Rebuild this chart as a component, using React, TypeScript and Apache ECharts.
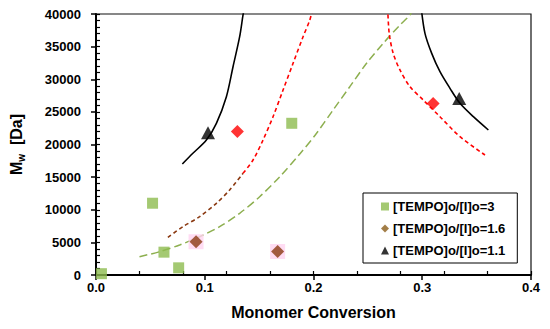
import React, { useEffect, useRef } from "react";
import * as echarts from "echarts";

// Measured points
const sqX = [0.005, 0.052, 0.0625, 0.076, 0.18];
const sqY = [200, 11000, 3500, 1100, 23250];

const dmX = [0.092, 0.167, 0.13, 0.31];
const dmY = [5100, 3600, 22000, 26300];
const dmKind = ["brown", "brown", "red", "red"];

const trX = [0.103, 0.334];
const trY = [21800, 27050];

// Model curves
const blk1X = [0.0794, 0.0891, 0.1015, 0.1107, 0.1199, 0.126, 0.1321, 0.1352, 0.1365];
const blk1Y = [17010, 18650, 20690, 23250, 27330, 31920, 36520, 39850, 41000];
const blk2X = [0.299, 0.3025, 0.3087, 0.3163, 0.3255, 0.3347, 0.347, 0.3608];
const blk2Y = [41000, 37040, 33970, 31160, 28610, 26310, 24260, 22220];

const brnX = [0.0661, 0.0799, 0.0953, 0.1107, 0.1229, 0.1352];
const brnY = [5770, 7410, 8940, 10990, 13030, 15580];
const red1X = [0.1352, 0.1444, 0.1536, 0.1628, 0.172, 0.1812, 0.1904, 0.1966, 0.1995];
const red1Y = [15580, 17620, 20690, 24260, 28350, 32440, 36520, 39080, 41000];
const red2X = [0.2682, 0.2696, 0.2733, 0.2795, 0.2887, 0.3009, 0.3163, 0.3347, 0.3577];
const red2Y = [41000, 37040, 33970, 31420, 28860, 26820, 24260, 21200, 18390];

const grnX = [0.04, 0.0585, 0.0769, 0.0953, 0.1137, 0.1321, 0.1505, 0.169, 0.1874, 0.2028, 0.218, 0.2334, 0.2488, 0.2641, 0.2795, 0.2887, 0.292];
const grnY = [2810, 3570, 4600, 5870, 7410, 9450, 12000, 15070, 18550, 21720, 25290, 28860, 32440, 35510, 38310, 39850, 41000];

const xTicks = [0, 0.1, 0.2, 0.3, 0.4];
const yTicks = [0, 5000, 10000, 15000, 20000, 25000, 30000, 35000, 40000];

const names = ["[TEMPO]o/[I]o=3", "[TEMPO]o/[I]o=1.6", "[TEMPO]o/[I]o=1.1"];

const FONT = 'Arial, "Liberation Sans", sans-serif';
const GREEN = "#8DBB4F";
const BROWN = "#8B3A12";
const RED = "#FF0000";

const zip = (xs: number[], ys: number[]) => xs.map((x, i) => [x, ys[i]]);

export default function App() {
  const ref = useRef<HTMLDivElement>(null);
  useEffect(() => {
    if (!ref.current) return;
    const chart = echarts.init(ref.current, undefined, { renderer: "svg" });
    const lineSeries = (xs: number[], ys: number[], color: string, type: any, width = 1.5) => ({
      type: "line",
      data: zip(xs, ys),
      showSymbol: false,
      symbol: "none",
      smooth: 0.3,
      lineStyle: { color, width, type },
      silent: true,
      z: 1,
    });
    chart.setOption({
      animation: false,
      grid: {
        left: 96,
        right: 19,
        top: 14,
        bottom: 54,
        show: true,
        borderColor: "#111",
        borderWidth: 1.2,
        backgroundColor: "transparent",
      },
      xAxis: [
        {
          type: "value",
          min: xTicks[0],
          max: xTicks[xTicks.length - 1],
          interval: 0.1,
          position: "bottom",
          axisLine: { show: true, onZero: false, lineStyle: { color: "#000", width: 2 } },
          axisTick: { show: true, length: 5, lineStyle: { color: "#000", width: 1.5 } },
          axisLabel: {
            margin: 6,
            fontFamily: FONT,
            fontWeight: "bold",
            fontSize: 13,
            color: "#000",
            formatter: (v: number) => v.toFixed(1),
          },
          splitLine: { show: false },
          name: "Monomer Conversion",
          nameLocation: "middle",
          nameGap: 29,
          nameTextStyle: { fontFamily: FONT, fontWeight: "bold", fontSize: 16, color: "#000" },
        },
        {
          type: "value",
          min: 0,
          max: 0.4,
          interval: 0.04,
          position: "bottom",
          axisLine: { show: false, onZero: false },
          axisTick: { show: true, inside: true, length: 4, lineStyle: { color: "#000", width: 1.2 } },
          axisLabel: { show: false },
          splitLine: { show: false },
        },
      ],
      yAxis: [
        {
          type: "value",
          min: yTicks[0],
          max: yTicks[yTicks.length - 1],
          interval: 5000,
          position: "left",
          axisLine: { show: true, onZero: false, lineStyle: { color: "#000", width: 2 } },
          axisTick: { show: true, length: 5, lineStyle: { color: "#000", width: 1.5 } },
          axisLabel: {
            margin: 15,
            fontFamily: FONT,
            fontWeight: "bold",
            fontSize: 13,
            color: "#000",
            formatter: (v: number) => String(v),
          },
          splitLine: { show: false },
          name: "{m|M}{s|w}{m|  [Da]}",
          nameLocation: "middle",
          nameRotate: 90,
          nameGap: 70,
          nameTextStyle: {
            rich: {
              m: { fontFamily: FONT, fontWeight: "bold", fontSize: 16, color: "#000" },
              s: { fontFamily: FONT, fontWeight: "bold", fontSize: 10, color: "#000", padding: [9, 0, 0, 0] },
            },
          },
        },
        {
          type: "value",
          min: 0,
          max: 40000,
          interval: 1000,
          position: "left",
          axisLine: { show: false, onZero: false },
          axisTick: { show: true, inside: true, length: 4, lineStyle: { color: "#000", width: 1.2 } },
          axisLabel: { show: false },
          splitLine: { show: false },
        },
      ],
      legend: {
        left: 363,
        top: 193,
        orient: "vertical",
        backgroundColor: "#fff",
        borderColor: "#000",
        borderWidth: 1,
        borderRadius: 0,
        padding: [7, 12, 6, 18],
        itemGap: 9,
        itemWidth: 8,
        itemHeight: 8,
        textStyle: { fontFamily: FONT, fontWeight: "bold", fontSize: 13, color: "#000", padding: [0, 0, 0, -1] },
        data: [
          { name: names[0], icon: "rect", itemStyle: { color: GREEN } },
          { name: names[1], icon: "diamond", itemStyle: { color: "#8B5E1A" } },
          { name: names[2], icon: "triangle", itemStyle: { color: "#000" } },
        ],
      },
      series: [
        lineSeries(grnX, grnY, "#8DAF4F", [8, 4], 1.5),
        lineSeries(brnX, brnY, "#8B3A12", [4, 3], 1.6),
        lineSeries(red1X, red1Y, RED, [4, 3], 1.6),
        lineSeries(red2X, red2Y, RED, [4, 3], 1.6),
        lineSeries(blk1X, blk1Y, "#000", "solid", 1.6),
        lineSeries(blk2X, blk2Y, "#000", "solid", 1.6),
        {
          type: "scatter",
          name: "halo",
          data: zip(dmX, dmY).filter((_, i) => dmKind[i] === "brown"),
          symbol: "rect",
          symbolSize: 15,
          itemStyle: { color: "#FFD3F0" },
          silent: true,
          z: 2,
        },
        {
          type: "scatter",
          name: names[0],
          data: zip(sqX, sqY),
          symbol: "rect",
          symbolSize: 11,
          itemStyle: { color: GREEN },
          z: 3,
        },
        {
          type: "scatter",
          name: names[1],
          data: zip(dmX, dmY).map((p, i) => ({
            value: p,
            itemStyle: { color: dmKind[i] === "red" ? RED : BROWN },
          })),
          symbol: "diamond",
          symbolSize: 13,
          itemStyle: { color: BROWN },
          z: 3,
        },
        {
          type: "scatter",
          name: names[2],
          data: zip(trX, trY),
          symbol: "triangle",
          symbolSize: [14, 13],
          itemStyle: { color: "#000" },
          z: 3,
        },
      ],
    });
    return () => chart.dispose();
  }, []);
  return <div ref={ref} style={{ width: 550, height: 329, position: "absolute", left: 0, top: 0 }} />;
}
